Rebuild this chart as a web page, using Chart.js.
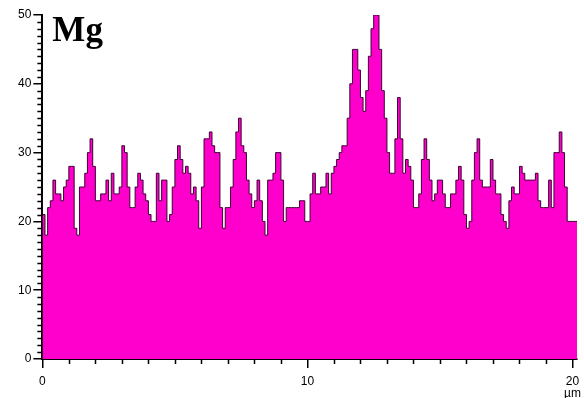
<!DOCTYPE html>
<html>
<head>
<meta charset="utf-8">
<script src="https://cdn.jsdelivr.net/npm/chart.js@4"></script>
<style>
  html, body { margin: 0; padding: 0; background: #fff; }
  #wrap { position: relative; width: 584px; height: 398px; }
</style>
</head>
<body>
<div id="wrap"><canvas id="c" width="584" height="398"></canvas></div>
<script>
// Line-scan profile of Mg counts, one channel every 0.1 µm
const element = 'Mg';
const binWidth = 0.1;
const xUnit = 'µm';

const counts0to5 = [
  24, 21, 18, 22, 23, 26, 24, 24, 23, 25,
  26, 28, 28, 19, 18, 25, 25, 27, 30, 32,
  28, 23, 23, 24, 24, 26, 23, 27, 24, 24,
  25, 31, 30, 25, 22, 22, 25, 27, 26, 24,
  23, 21, 20, 20, 27, 23, 26, 26, 20, 21
];
const counts5to10 = [
  25, 29, 31, 29, 27, 28, 27, 24, 25, 23,
  19, 25, 32, 32, 33, 31, 30, 30, 22, 19,
  22, 22, 25, 29, 33, 35, 31, 30, 26, 24,
  22, 23, 26, 23, 20, 18, 26, 26, 27, 30,
  30, 26, 20, 22, 22, 22, 22, 22, 23, 23
];
const counts10to15 = [
  20, 20, 24, 27, 24, 24, 25, 25, 27, 24,
  27, 28, 29, 30, 31, 31, 35, 40, 45, 45,
  42, 38, 36, 39, 44, 48, 50, 50, 45, 39,
  35, 30, 27, 27, 32, 38, 32, 27, 29, 28,
  26, 22, 22, 24, 29, 32, 29, 26, 23, 24
];
const counts15to20 = [
  26, 26, 24, 22, 22, 24, 24, 26, 28, 26,
  21, 19, 20, 26, 30, 32, 26, 25, 25, 25,
  29, 26, 24, 24, 21, 20, 19, 23, 25, 24,
  24, 28, 27, 26, 26, 26, 26, 27, 23, 22,
  22, 22, 26, 22, 30, 30, 33, 30, 25, 20,
  20, 20
];

const yMajor = [0, 10, 20, 30, 40, 50];
const xMajor = [0, 10, 20];
const xMax = 20.17;

const counts = counts0to5.concat(counts5to10, counts10to15, counts15to20);
const points = counts.map((v, i) => ({ x: +(i * binWidth).toFixed(2), y: v }));
// close the last channel so the final step has its full width
points.push({ x: +(counts.length * binWidth).toFixed(2), y: counts[counts.length - 1] });

const labelFont = { family: 'Liberation Sans, Arial, sans-serif', size: 12, lineHeight: 1.05 };

// short unlabelled ticks between the labelled ones
const minorTicks = {
  id: 'minorTicks',
  afterDraw(chart) {
    const { ctx, chartArea, scales } = chart;
    ctx.save();
    ctx.strokeStyle = '#000';
    ctx.lineWidth = 1.5;
    ctx.beginPath();
    for (let v = scales.y.min; v <= scales.y.max; v += 1) {
      if (yMajor.includes(v)) continue;
      const py = Math.round(scales.y.getPixelForValue(v)) + 0.5;
      ctx.moveTo(chartArea.left - 5, py);
      ctx.lineTo(chartArea.left, py);
    }
    for (let v = 1; v < scales.x.max; v += 1) {
      if (xMajor.includes(v)) continue;
      const px = Math.round(scales.x.getPixelForValue(v)) + 0.5;
      ctx.moveTo(px, chartArea.bottom);
      ctx.lineTo(px, chartArea.bottom + 5);
    }
    ctx.stroke();
    ctx.restore();
  }
};

// element symbol in the upper-left corner of the plot
const elementLabel = {
  id: 'elementLabel',
  afterDraw(chart) {
    const { ctx, chartArea } = chart;
    ctx.save();
    ctx.fillStyle = '#000';
    ctx.font = 'bold 35px "Liberation Serif", "Times New Roman", serif';
    ctx.textBaseline = 'alphabetic';
    ctx.fillText(element, chartArea.left + 10, chartArea.top + 26);
    ctx.restore();
  }
};

new Chart(document.getElementById('c'), {
  type: 'line',
  data: {
    datasets: [{
      data: points,
      stepped: 'after',
      fill: 'origin',
      backgroundColor: '#ff00cc',
      borderColor: '#3d0033',
      borderWidth: 1,
      pointRadius: 0,
      tension: 0
    }]
  },
  options: {
    responsive: false,
    animation: false,
    devicePixelRatio: 1,
    layout: { padding: { left: 16, right: 7, top: 15, bottom: 0 } },
    plugins: { legend: { display: false }, tooltip: { enabled: false }, title: { display: false } },
    scales: {
      x: {
        type: 'linear',
        min: 0,
        max: xMax,
        afterBuildTicks: s => { s.ticks = xMajor.map(v => ({ value: v })); },
        afterFit: s => { s.height = 39; s.paddingLeft = 0; s.paddingRight = 0; },
        ticks: {
          autoSkip: false,
          maxRotation: 0,
          padding: 7,
          color: '#000',
          font: labelFont,
          callback: v => v === xMajor[xMajor.length - 1] ? [String(v), xUnit] : String(v)
        },
        grid: { drawOnChartArea: false, drawTicks: true, tickLength: 9, color: '#000', lineWidth: 1.5 },
        border: { display: true, color: '#000', width: 2 }
      },
      y: {
        min: 0,
        max: 50,
        afterBuildTicks: s => { s.ticks = yMajor.map(v => ({ value: v })); },
        ticks: { padding: 2, color: '#000', font: labelFont },
        grid: { drawOnChartArea: false, drawTicks: true, tickLength: 9, color: '#000', lineWidth: 1.5 },
        border: { display: true, color: '#000', width: 2 }
      }
    }
  },
  plugins: [minorTicks, elementLabel]
});
</script>
</body>
</html>
